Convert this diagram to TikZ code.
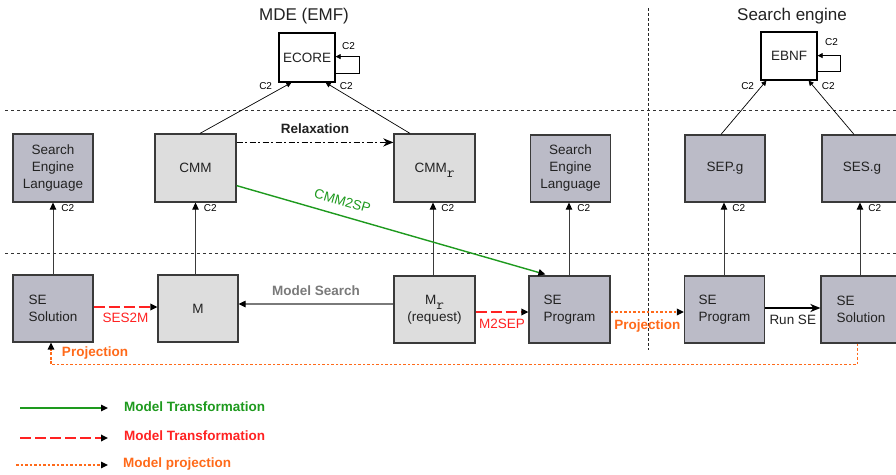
\documentclass[tikz,border=0pt]{standalone}
\usepackage{fontspec}
\setmainfont{Liberation Sans}
\usetikzlibrary{arrows.meta,calc}
\definecolor{darkfill}{HTML}{BBBBC7}
\definecolor{lightfill}{HTML}{DDDDDD}
\definecolor{boxline}{HTML}{3A3A3A}
\definecolor{txt}{HTML}{222222}
\definecolor{mgreen}{HTML}{1E9A1E}
\definecolor{mred}{HTML}{FF2222}
\definecolor{morange}{HTML}{FF6A1A}
\definecolor{mgray}{HTML}{7A7A7A}
\newcommand\bxf{\fontsize{13.5}{17}\selectfont}
\newcommand\smf{\fontsize{10}{12}\selectfont}
\newcommand\ttl{\fontsize{17}{20}\selectfont}
\newcommand\subr{\smash{\raisebox{-5pt}{\fontsize{15}{15}\ttfamily r}}}
\tikzset{
  box/.style={draw=boxline, line width=1.2pt, minimum width=80pt, minimum height=67pt, inner sep=0pt, font=\bxf, text=txt},
  darkbox/.style={box, fill=darkfill},
  lightbox/.style={box, fill=lightfill},
  metabox/.style={box, fill=white, draw=black, minimum width=56pt, minimum height=48pt},
  tip/.style={-{Triangle[length=7pt,width=6.5pt,color=black]}},
  smalltip/.style={-{Triangle[length=5pt,width=5pt,color=black]}},
  conn/.style={tip, line width=0.9pt, draw=boxline},
  thin/.style={smalltip, line width=0.7pt, draw=black},
  c2/.style={font=\smf, text=black, inner sep=0pt},
  lbl/.style={font=\bxf, inner sep=0pt},
  blbl/.style={font=\bxf\bfseries, inner sep=0pt},
  sep/.style={line width=0.8pt, draw=black!80, dash pattern=on 3pt off 3pt},
  transf/.style={tip, draw=mgreen, line width=1.4pt},
  redtr/.style={tip, draw=mred, line width=1.8pt, dash pattern=on 11pt off 4pt},
  projl/.style={tip, draw=morange, line width=1.7pt, dash pattern=on 2.7pt off 1.8pt},
}
\begin{document}
\begin{tikzpicture}[x=1pt,y=-1pt]
\useasboundingbox[fill=white] (0,0) rectangle (896,474);

% titles
\node[font=\ttl, text=txt] (t1) at (304,16) {MDE (EMF)};
\node[font=\ttl, text=txt] (t2) at (792,16) {Search engine};

% separators
\coordinate (s1a) at (5,110); \coordinate (s1b) at (896,110);
\coordinate (s2a) at (5,253); \coordinate (s2b) at (896,253);
\coordinate (s3a) at (648,8); \coordinate (s3b) at (648,350);
\draw[sep] (s1a) -- (s1b);
\draw[sep] (s2a) -- (s2b);
\draw[line width=0.8pt, draw=black!85, dash pattern=on 3pt off 2pt] (s3a) -- (s3b);

% meta level
\node[metabox, minimum height=49pt] (ECORE) at (307,57.5) {ECORE};
\node[metabox] (EBNF) at (789,56) {EBNF};

% middle level
\node[darkbox, minimum height=68pt, align=center] (SEL1) at (53,168) {Search\\Engine\\Language};
\node[lightbox, minimum width=81pt, minimum height=68pt] (CMM) at (195.5,168) {CMM};
\node[lightbox, minimum width=81pt, minimum height=68pt] (CMMr) at (434.5,168) {CMM\subr};
\node[darkbox, align=center] (SEL2) at (570.5,168.5) {Search\\Engine\\Language};
\node[darkbox] (SEPg) at (725,168.5) {SEP.g};
\node[darkbox] (SESg) at (862,168.5) {SES.g};

% bottom level
\node[darkbox, align=left] (SESol1) at (53,308.5) {SE\\Solution};
\node[lightbox] (M) at (198,308.5) {M};
\node[lightbox, minimum width=81pt, align=center] (Mr) at (434.5,309.5) {M\subr\\(request)};
\node[darkbox, minimum width=81pt, align=left] (SEP1) at (569.5,309.5) {SE\\Program};
\node[darkbox, align=left] (SEP2) at (724.5,309.5) {SE\\Program};
\node[darkbox, align=left] (SESol2) at (861,309.5) {SE\\Solution};

% conformance to meta-metamodels
\draw[thin] ($(CMM.north)+(4.5,0)$) -- ($(ECORE.south west)+(13,0)$)
  node[c2, pos=1, anchor=east, xshift=-19pt, yshift=-3pt] {C2};
\draw[thin] ($(CMMr.north)+(-24.5,0)$) -- ($(ECORE.south east)+(-10,0)$)
  node[c2, pos=1, anchor=west, xshift=14pt, yshift=-3pt] {C2};
\draw[thin] ($(ECORE.south east)+(0,-9)$) -- ++(24,0) |- ($(ECORE.south east)+(0,-26)$);
\node[c2] (c2e) at ($(ECORE.north east)+(13,14)$) {C2};
\draw[thin] ($(SEPg.north)+(-4,0)$) -- ($(EBNF.south west)+(6,0)$)
  node[c2, pos=1, anchor=east, xshift=-12pt, yshift=-5pt] {C2};
\draw[thin] ($(SESg.north)+(-8,0)$) -- ($(EBNF.south east)+(-9,0)$)
  node[c2, pos=1, anchor=west, xshift=13pt, yshift=-5pt] {C2};
\draw[thin] ($(EBNF.south east)+(0,-9)$) -- ++(23,0) |- ($(EBNF.south east)+(0,-25)$);
\node[c2] (c2b) at ($(EBNF.north east)+(14,11)$) {C2};

% vertical conformance
\draw[conn] (SESol1.north) -- (SEL1.south) node[c2, pos=1, anchor=north west, xshift=8pt, yshift=-1pt] {C2};
\draw[conn] (CMM.south |- M.north) -- (CMM.south) node[c2, pos=1, anchor=north west, xshift=8pt, yshift=-1pt] {C2};
\draw[conn] ($(Mr.north)+(-1.5,0)$) -- ($(CMMr.south)+(-1.5,0)$) node[c2, pos=1, anchor=north west, xshift=8pt, yshift=-1pt] {C2};
\draw[conn] ($(SEL2.south |- SEP1.north)+(-1.5,0)$) -- ($(SEL2.south)+(-1.5,0)$) node[c2, pos=1, anchor=north west, xshift=8pt, yshift=-1pt] {C2};
\draw[conn] ($(SEPg.south |- SEP2.north)+(-1,0)$) -- ($(SEPg.south)+(-1,0)$) node[c2, pos=1, anchor=north west, xshift=8pt, yshift=-1pt] {C2};
\draw[conn] ($(SESg.south |- SESol2.north)+(-2,0)$) -- ($(SESg.south)+(-2,0)$) node[c2, pos=1, anchor=north west, xshift=8pt, yshift=-1pt] {C2};

% relaxation
\draw[line width=1.8pt, draw=black, dash pattern=on 6pt off 2.5pt on 2pt off 2.5pt,
  -{Stealth[length=10pt,width=8pt,inset=3pt]}]
  ($(CMM.north east)+(0,9)$) -- ($(CMMr.north west)+(0,9)$)
  node[blbl, midway, yshift=14pt, text=txt] {Relaxation};

% CMM2SP
\draw[transf] ($(CMM.south east)+(0,-17)$) -- ($(SEP1.north west)+(17,-1)$)
  node[lbl, pos=0.33, sloped, above=9pt, text=mgreen] {CMM2SP};

% model search
\coordinate (ms) at ($(Mr.west)+(0,-5.5)$);
\draw[tip, draw=mgray, line width=1.2pt] (ms) -- (M.east |- ms)
  node[blbl, midway, yshift=13pt, text=mgray] {Model Search};

% SES2M
\coordinate (sm) at ($(SESol1.east)+(0,-1.5)$);
\draw[redtr] (sm) -- (M.west |- sm)
  node[lbl, midway, yshift=-11pt, text=mred] {SES2M};

% M2SEP
\coordinate (mp) at ($(Mr.east)+(0,2.5)$);
\draw[redtr] (mp) -- (SEP1.west |- mp)
  node[lbl, midway, yshift=-12pt, text=mred] {M2SEP};

% Projection
\coordinate (pp) at ($(SEP1.east)+(0,2.5)$);
\draw[projl] (pp) -- (SEP2.west |- pp)
  node[blbl, midway, yshift=-14pt, text=morange] {Projection};

% Run SE
\coordinate (rs) at ($(SEP2.east)+(0,-1.5)$);
\draw[line width=1.8pt, draw=black, -{Stealth[length=10pt,width=8pt,inset=3pt]}] (rs) -- (SESol2.west |- rs)
  node[lbl, midway, yshift=-12pt, text=txt] {Run SE};

% bottom projection
\coordinate (bp) at ($(SESol2.south west)+(37,0)$);
\draw[projl, line width=1.3pt] (bp) -- ++(0,21) -| ($(SESol1.south)+(-2,0)$);
\node[blbl, text=morange] (bpl) at (95,353) {Projection};

% legend
\coordinate (l1a) at (20,408); \coordinate (l1b) at (108,408);
\coordinate (l2a) at (20,438); \coordinate (l2b) at (108,438);
\coordinate (l3a) at (16,465); \coordinate (l3b) at (108,465);
\draw[transf] (l1a) -- (l1b);
\draw[redtr] (l2a) -- (l2b);
\draw[projl, line width=1.3pt] (l3a) -- (l3b);
\node[blbl, anchor=west, text=mgreen] (lt1) at (124,407) {Model Transformation};
\node[blbl, anchor=west, text=mred] (lt2) at (124,436) {Model Transformation};
\node[blbl, anchor=west, text=morange] (lt3) at (123,464) {Model projection};
\end{tikzpicture}
\end{document}
